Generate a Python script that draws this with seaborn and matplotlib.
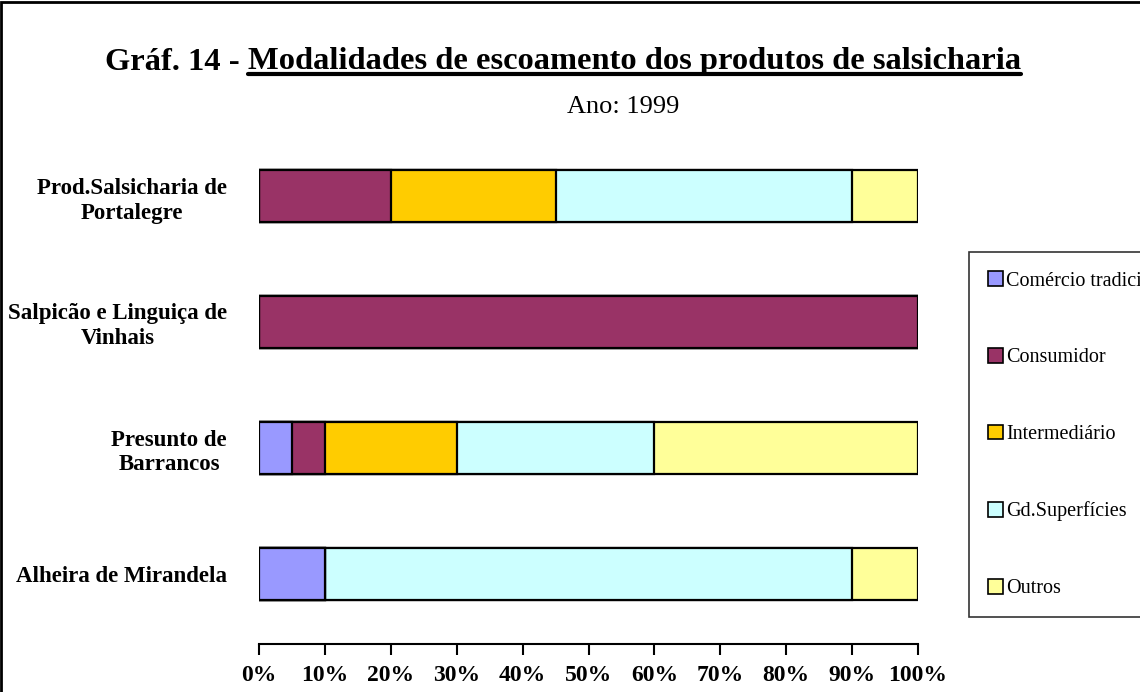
import matplotlib
matplotlib.use("Agg")
import matplotlib.pyplot as plt
from matplotlib.patches import Patch, Rectangle
from matplotlib.ticker import PercentFormatter
import seaborn as sns
import pandas as pd
import numpy as np

# === Data ===
categories = ["Prod.Salsicharia de\nPortalegre",
              "Salpicão e Linguiça de\nVinhais",
              "Presunto de\nBarrancos",
              "Alheira de Mirandela"]
series = ["Comércio tradicional", "Consumidor", "Intermediário",
          "Gd.Superfícies", "Outros"]
comercio = [0, 0, 5, 10]
consumidor = [20, 100, 5, 0]
intermediario = [25, 0, 20, 0]
gd_superficies = [45, 0, 30, 80]
outros = [10, 0, 40, 10]
colors = ["#9999FF", "#993366", "#FFCC00", "#CCFFFF", "#FFFF99"]
xticks = list(range(0, 101, 10))

# === Build long table with cumulative ends ===
values = np.array([comercio, consumidor, intermediario, gd_superficies, outros])
cum = values.cumsum(axis=0)
rows = []
for i, s in enumerate(series):
    for j, c in enumerate(categories):
        rows.append({"serie": s, "cat": c, "end": cum[i, j]})
df = pd.DataFrame(rows)

sns.set_theme(style="white")
plt.rcParams["font.family"] = ["Liberation Serif", "DejaVu Serif"]
plt.rcParams["text.color"] = "black"
plt.rcParams["xtick.color"] = "black"
plt.rcParams["ytick.color"] = "black"

fig = plt.figure(figsize=(11.4, 6.92), dpi=100)
ax = fig.add_axes([259 / 1140, 1 - 644 / 692, (918 - 259) / 1140, (644 - 133) / 692])

# draw back to front: longest cumulative first, each later one covers it
for i in reversed(range(len(series))):
    sub = df[df["serie"] == series[i]]
    sns.barplot(data=sub, x="end", y="cat", order=categories, orient="h",
                color=colors[i], edgecolor="black", linewidth=1.6,
                width=0.41, saturation=1, ax=ax)

ax.set_xlim(0, 100)
ax.set_ylim(3 + 70 / 126, -0.5)
ax.set_xticks(xticks)
ax.xaxis.set_major_formatter(PercentFormatter(decimals=0))
ax.set_xlabel("")
ax.set_ylabel("")
for sp in ["top", "right", "left"]:
    ax.spines[sp].set_visible(False)
ax.spines["bottom"].set_color("black")
ax.spines["bottom"].set_linewidth(1.5)
ax.tick_params(axis="x", bottom=True, length=8, width=1.5, color="black",
               direction="out", pad=7, labelsize=17)
ax.tick_params(axis="y", left=False, pad=17, labelsize=16.5)
for lab in ax.get_xticklabels():
    lab.set_fontweight("bold")
for lab in ax.get_yticklabels():
    lab.set_fontweight("bold")
    lab.set_multialignment("center")
    lab.set_linespacing(1.25)

# === Legend ===
handles = [Patch(facecolor=c, edgecolor="black", linewidth=1.2) for c in colors]
leg = fig.legend(handles, series, loc="upper left",
                 bbox_to_anchor=(969 / 1140, 1 - 252 / 692),
                 frameon=True, fancybox=False, edgecolor="black",
                 fontsize=14.5, handlelength=0.75, handleheight=0.75,
                 handletextpad=0.15, labelspacing=2.85, borderpad=0.95,
                 borderaxespad=0)
leg.get_frame().set_linewidth(1.2)

# === Title with underlined part ===
fig.canvas.draw()
renderer = fig.canvas.get_renderer()
t1 = fig.text(105 / 1140, 1 - 62 / 692, "Gráf. 14 - ", fontsize=23.4,
              fontweight="bold", ha="left", va="center")
fig.canvas.draw()
bb = t1.get_window_extent(renderer).transformed(fig.transFigure.inverted())
t2 = fig.text(bb.x1, 1 - 62 / 692, "Modalidades de escoamento dos produtos de salsicharia",
              fontsize=23.4, fontweight="bold", ha="left", va="center")
fig.canvas.draw()
bb2 = t2.get_window_extent(renderer).transformed(fig.transFigure.inverted())
fig.add_artist(plt.Line2D([bb2.x0, bb2.x1], [1 - 74 / 692, 1 - 74 / 692],
                          color="black", linewidth=3, transform=fig.transFigure))
fig.text(623 / 1140, 1 - 107 / 692, "Ano: 1999", fontsize=19,
         ha="center", va="center")

# outer border of the chart area (runs off right and bottom)
fig.add_artist(Rectangle((1 / 1140, -0.05), 1.1, 1.05 - 2 / 692,
                         transform=fig.transFigure, fill=False,
                         edgecolor="black", linewidth=2))

fig.savefig("out.png", dpi=100)
